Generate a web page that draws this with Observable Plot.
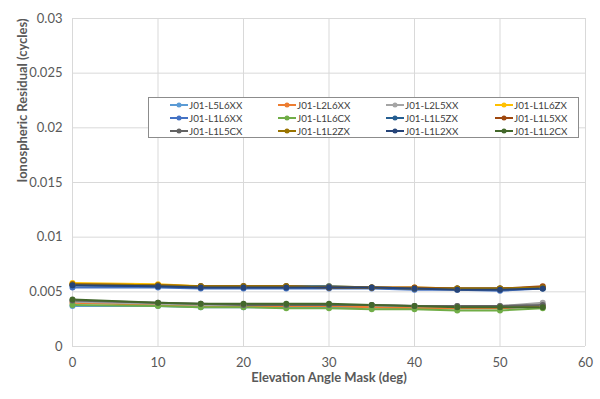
<!DOCTYPE html>
<html><head><meta charset="utf-8">
<script src="https://cdn.jsdelivr.net/npm/d3@7"></script>
<script src="https://cdn.jsdelivr.net/npm/@observablehq/plot@0.6"></script>
<style>
body{margin:0;background:#fff;font-family:Lato,"Open Sans",sans-serif;}
#wrap{position:relative;width:600px;height:399px;}
#legend{position:absolute;left:148px;top:97px;width:431px;height:41px;border:1px solid #8c8c8c;background:#fff;display:grid;grid-template-columns:108px 108px 109px 106px;grid-template-rows:13px 13px 13px;box-sizing:border-box;font-size:9.8px;color:#404040;}
#legend div{display:flex;align-items:center;padding-left:21px;white-space:nowrap;}
#legend svg{margin-right:1px;}
</style></head>
<body><div id="wrap"><div id="chart"></div><div id="legend"></div></div>
<script>
const angles = [0, 10, 15, 20, 25, 30, 35, 40, 45, 50, 55];
const seriesNames = ["J01-L5L6XX","J01-L2L6XX","J01-L2L5XX","J01-L1L6ZX","J01-L1L6XX","J01-L1L6CX","J01-L1L5ZX","J01-L1L5XX","J01-L1L5CX","J01-L1L2ZX","J01-L1L2XX","J01-L1L2CX"];
const seriesColors = ["#5B9BD5","#ED7D31","#A5A5A5","#FFC000","#4472C4","#70AD47","#255E91","#9E480E","#636363","#997300","#264478","#43682B"];
const L5L6XX = [.0037,.0037,.0036,.0036,.0036,.0036,.0036,.0035,.0035,.0035,.0037];
const L2L6XX = [.0040,.0038,.0037,.0037,.0037,.0037,.0036,.0035,.0035,.0035,.0037];
const L2L5XX = [.0041,.0039,.0038,.0038,.0038,.0038,.0038,.0037,.0037,.0037,.0040];
const L1L6ZX = [.0058,.0057,.0055,.0055,.0055,.0055,.0054,.0054,.0053,.0053,.0054];
const L1L6XX = [.0054,.0054,.0053,.0053,.0053,.0053,.0053,.0052,.0052,.0051,.0053];
const L1L6CX = [.0038,.0037,.0036,.0036,.0035,.0035,.0034,.0034,.0033,.0033,.0035];
const L1L5ZX = [.0056,.0055,.0055,.0055,.0055,.0055,.0054,.0053,.0053,.0053,.0053];
const L1L5XX = [.0057,.0056,.0055,.0055,.0055,.0054,.0054,.0054,.0053,.0053,.0055];
const L1L5CX = [.0042,.0040,.0039,.0038,.0038,.0038,.0038,.0037,.0037,.0037,.0038];
const L1L2ZX = [.0057,.0056,.0055,.0055,.0055,.0054,.0054,.0053,.0053,.0053,.0054];
const L1L2XX = [.0056,.0055,.0054,.0054,.0054,.0054,.0054,.0053,.0052,.0052,.0053];
const L1L2CX = [.0043,.0040,.0039,.0039,.0039,.0039,.0038,.0037,.0036,.0036,.0036];
const seriesValues = [L5L6XX,L2L6XX,L2L5XX,L1L6ZX,L1L6XX,L1L6CX,L1L5ZX,L1L5XX,L1L5CX,L1L2ZX,L1L2XX,L1L2CX];
const xTicks = [0,10,20,30,40,50,60];
const yTicks = [0,0.005,0.01,0.015,0.02,0.025,0.03];

const data = [];
seriesNames.forEach((n,i)=>angles.forEach((a,j)=>data.push({series:n, angle:a, value:seriesValues[i][j]})));

const chart = Plot.plot({
  width:600, height:399,
  marginLeft:72, marginRight:15, marginTop:18, marginBottom:53,
  style:{fontFamily:"Lato, 'Open Sans', sans-serif", fontSize:"13px", color:"#595959", background:"#fff"},
  x:{domain:[0,60], ticks:xTicks, tickSize:0, tickPadding:10, label:null, tickFormat:d=>String(d)},
  y:{domain:[0,0.03], ticks:yTicks, tickSize:0, tickPadding:10, label:null, tickFormat:d=>String(+d.toFixed(3))},
  color:{domain:seriesNames, range:seriesColors},
  marks:[
    Plot.gridX(xTicks,{stroke:"#d9d9d9", strokeOpacity:1}),
    Plot.gridY(yTicks,{stroke:"#d9d9d9", strokeOpacity:1}),
    Plot.axisX({ticks:xTicks, tickSize:0, tickPadding:11, label:null, fontSize:13}),
    Plot.axisY({ticks:yTicks, tickSize:0, tickPadding:10, label:null, fontSize:13, tickFormat:d=>String(+d.toFixed(3))}),
    Plot.line(data,{x:"angle", y:"value", z:"series", stroke:"series", strokeWidth:2}),
    Plot.dot(data,{x:"angle", y:"value", fill:"series", r:3}),
    Plot.text(["Elevation Angle Mask (deg)"],{frameAnchor:"bottom", dy:35, fontWeight:"bold", fontSize:13, fill:"#595959", text:d=>d}),
    Plot.text(["Ionospheric Residual (cycles)"],{frameAnchor:"left", dx:-50, rotate:-90, fontWeight:"bold", fontSize:13, fill:"#595959", text:d=>d})
  ]
});
document.getElementById("chart").appendChild(chart);

const lg = document.getElementById("legend");
seriesNames.forEach((n,i)=>{
  const d = document.createElement("div");
  d.innerHTML = `<svg width="18" height="8"><line x1="0" y1="4" x2="18" y2="4" stroke="${seriesColors[i]}" stroke-width="2"/><circle cx="9" cy="4" r="2.5" fill="${seriesColors[i]}"/></svg>${n}`;
  lg.appendChild(d);
});
</script></body></html>
